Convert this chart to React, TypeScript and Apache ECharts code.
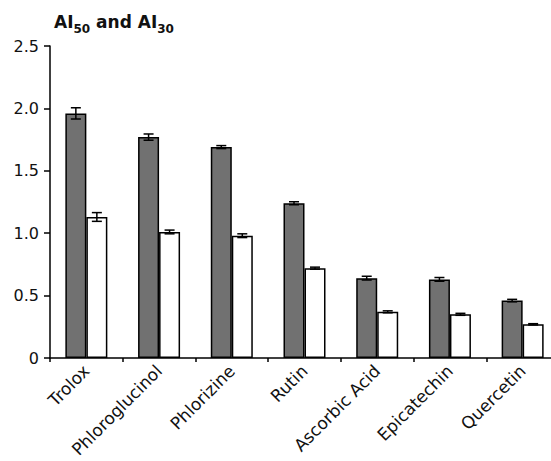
import React, { useEffect, useRef } from "react";
import * as echarts from "echarts";

const categories = ["Trolox", "Phloroglucinol", "Phlorizine", "Rutin", "Ascorbic Acid", "Epicatechin", "Quercetin"];
const ai50 = [1.96, 1.77, 1.69, 1.24, 0.64, 0.63, 0.46];
const ai50Err = [0.045, 0.025, 0.012, 0.012, 0.015, 0.015, 0.01];
const ai30 = [1.13, 1.01, 0.98, 0.72, 0.37, 0.35, 0.27];
const ai30Err = [0.035, 0.015, 0.015, 0.008, 0.008, 0.008, 0.005];
const yTicks = [0, 0.5, 1.0, 1.5, 2.0, 2.5];

const FONT = "'DejaVu Sans', 'Liberation Sans', Arial, sans-serif";
const BAR_W = 21;

function errorSeries(vals: number[], errs: number[], offset: number) {
  return {
    type: "custom",
    silent: true,
    z: 10,
    data: vals.map((v, i) => [i, v, errs[i]]),
    renderItem: (params: any, api: any) => {
      const i = api.value(0);
      const v = api.value(1);
      const e = api.value(2);
      const c = api.coord([i, v]);
      const x = c[0] + offset;
      const yHi = api.coord([i, v + e])[1];
      const yLo = api.coord([i, v - e])[1];
      const cap = 5;
      const style = { stroke: "#000", lineWidth: 1.5 };
      return {
        type: "group",
        children: [
          { type: "line", shape: { x1: x, y1: yHi, x2: x, y2: yLo }, style },
          { type: "line", shape: { x1: x - cap, y1: yHi, x2: x + cap, y2: yHi }, style },
          { type: "line", shape: { x1: x - cap, y1: yLo, x2: x + cap, y2: yLo }, style },
        ],
      };
    },
  };
}

export default function App() {
  const ref = useRef<HTMLDivElement>(null);
  useEffect(() => {
    if (!ref.current) return;
    const chart = echarts.init(ref.current, undefined, { renderer: "svg" });
    chart.setOption({
      animation: false,
      backgroundColor: "#fff",
      textStyle: { fontFamily: FONT },
      title: {
        text: "{m|AI}{s|50}{m| and AI}{s|30}",
        left: 49,
        top: 5,
        textStyle: {
          rich: {
            m: { fontSize: 17, fontWeight: "bold", color: "#111", fontFamily: FONT, verticalAlign: "bottom", lineHeight: 20 },
            s: { fontSize: 12, fontWeight: "bold", color: "#111", fontFamily: FONT, verticalAlign: "bottom", lineHeight: 14, padding: [0, 0, -5, 0] },
          },
        },
      },
      grid: { left: 50, top: 46, width: 509, height: 312, containLabel: false, outerBoundsMode: "none" },
      xAxis: {
        type: "category",
        data: categories,
        axisLine: { lineStyle: { color: "#000", width: 1.5 } },
        axisTick: { show: true, length: 4, lineStyle: { color: "#000", width: 1.5 } },
        axisLabel: { rotate: 45, fontSize: 17, color: "#111", margin: 10, interval: 0, fontFamily: FONT },
      },
      yAxis: {
        type: "value",
        min: 0,
        max: 2.5,
        interval: 0.5,
        splitLine: { show: false },
        axisLine: { show: true, lineStyle: { color: "#000", width: 1.5 } },
        axisTick: { show: true, length: 6, lineStyle: { color: "#000", width: 1.5 } },
        axisLabel: {
          fontSize: 16,
          color: "#111",
          margin: 11,
          fontFamily: FONT,
          formatter: (v: number) => {
            const t = yTicks.find((k) => Math.abs(k - v) < 1e-9);
            if (t === undefined) return "";
            return t === 0 ? "0" : t.toFixed(1);
          },
        },
      },
      series: [
        {
          type: "bar",
          name: "AI50",
          data: ai50,
          barWidth: BAR_W,
          barGap: "0%",
          itemStyle: { color: "#717171", borderColor: "#000", borderWidth: 1.5 },
        },
        {
          type: "bar",
          name: "AI30",
          data: ai30,
          barWidth: BAR_W,
          barGap: "0%",
          itemStyle: { color: "#fff", borderColor: "#000", borderWidth: 1.5 },
        },
        errorSeries(ai50, ai50Err, -BAR_W / 2),
        errorSeries(ai30, ai30Err, BAR_W / 2),
      ],
    });
    return () => chart.dispose();
  }, []);
  return (
    <div
      ref={ref}
      style={{ position: "absolute", left: 0, top: 0, width: 551, height: 461, overflow: "hidden" }}
    />
  );
}
